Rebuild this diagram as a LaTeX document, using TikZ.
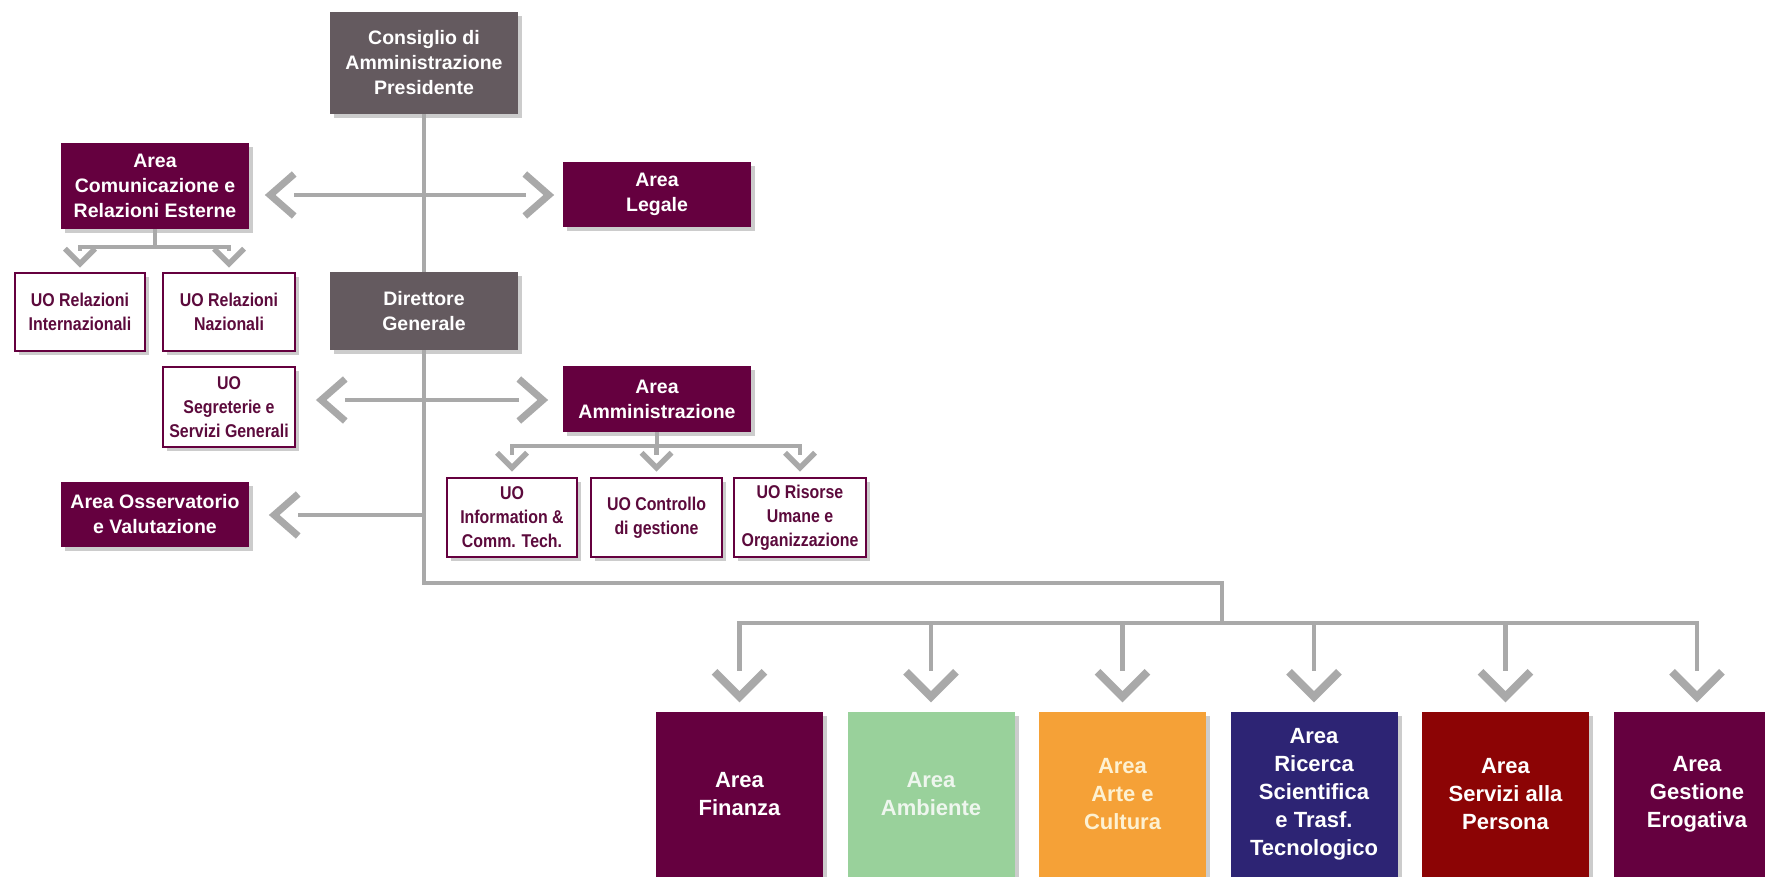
\documentclass[tikz,border=0pt]{standalone}
\usepackage{fontspec}
\setmainfont{Liberation Sans}
\newfontfamily\uofamily[FakeStretch=0.86]{Liberation Sans}
\usetikzlibrary{shadows,calc}
\definecolor{maroon}{HTML}{65003F}
\definecolor{dgray}{HTML}{645A5F}
\definecolor{lgray}{HTML}{A9A9A9}
\definecolor{agreen}{HTML}{99D19B}
\definecolor{aorange}{HTML}{F5A137}
\definecolor{anavy}{HTML}{2D2474}
\definecolor{ared}{HTML}{8C0405}
\definecolor{uotext}{HTML}{5C0A3C}
\definecolor{ambtext}{HTML}{EEF6EE}
\definecolor{arttext}{HTML}{FDF1D2}
\begin{document}
\begin{tikzpicture}[x=1pt,y=-1pt,
  shad/.style={drop shadow={shadow xshift=4pt,shadow yshift=-4pt,opacity=0.2,fill=black}},
  base/.style={align=center,inner sep=0pt,shad},
  topbox/.style={base,fill=dgray,text=white,minimum width=188pt,font=\fontsize{19.5}{25}\selectfont\bfseries},
  areabox/.style={base,fill=maroon,text=white,minimum width=188pt,font=\fontsize{19.5}{25}\selectfont\bfseries},
  uobox/.style={base,fill=white,draw=maroon,line width=2.5pt,text=uotext,font=\uofamily\fontsize{18.5}{24}\selectfont\bfseries},
  botbox/.style={base,minimum width=167pt,minimum height=165pt,text=white,font=\fontsize{22}{28}\selectfont\bfseries},
  conn/.style={draw=lgray,line width=4.5pt},
  chev/.style={draw=lgray,line join=miter},
  pics/bigdown/.style={code={\draw[chev,line width=8pt] (-25,-25) -- (0,0) -- (25,-25);}},
  pics/smalldown/.style={code={\draw[chev,line width=5.5pt] (-15,-15) -- (0,0) -- (15,-15);}},
  pics/sideleft/.style={code={\draw[chev,line width=7pt] (24,-21) -- (0,0) -- (24,21);}},
  pics/sideright/.style={code={\draw[chev,line width=7pt] (-24,-21) -- (0,0) -- (-24,21);}},
]
\fill[white] (0,0) rectangle (1765,877);
\useasboundingbox (0,0) rectangle (1765,877);

% coordinates on the main line
\coordinate (h1) at (424,195);
\coordinate (h2) at (424,400);
\coordinate (h3) at (424,515);
\coordinate (j1) at (424,583);
\coordinate (j2) at (1222,623);
\coordinate (b1) at (155,247);
\coordinate (b2) at (657,446);

% nodes
\node[topbox,minimum height=102pt] (cons) at (424,63) {Consiglio di\\Amministrazione\\Presidente};
\node[areabox,minimum height=86pt] (comm) at (155,186) {Area\\Comunicazione e\\Relazioni Esterne};
\node[areabox,minimum height=65pt] (leg) at (657,194.5) {Area\\Legale};
\node[uobox,minimum width=130pt,minimum height=78pt] (uoi) at (80,312) {UO Relazioni\\Internazionali};
\node[uobox,minimum width=132pt,minimum height=78pt] (uon) at (229,312) {UO Relazioni\\Nazionali};
\node[topbox,minimum height=78pt] (dir) at (424,311) {Direttore\\Generale};
\node[uobox,minimum width=132pt,minimum height=80pt] (seg) at (229,407) {UO\\Segreterie e\\Servizi Generali};
\node[areabox,minimum height=66pt] (amm) at (657,399) {Area\\Amministrazione};
\node[areabox,minimum height=65pt] (oss) at (155,514.5) {Area Osservatorio\\e Valutazione};
\node[uobox,minimum width=130pt,minimum height=79pt] (ict) at (512,517.5) {UO\\Information \&\\Comm. Tech.};
\node[uobox,minimum width=131pt,minimum height=79pt] (cdg) at (656.5,517.5) {UO Controllo\\di gestione};
\node[uobox,minimum width=132pt,minimum height=79pt] (rum) at (800,517.5) {UO Risorse\\Umane e\\Organizzazione};

\node[botbox,fill=maroon] (fin) at (739.5,794.5) {Area\\Finanza};
\node[botbox,fill=agreen,text=ambtext] (amb) at (931,794.5) {Area\\Ambiente};
\node[botbox,fill=aorange,text=arttext] (art) at (1122.5,794.5) {Area\\Arte e\\Cultura};
\node[botbox,fill=anavy] (ric) at (1314,794.5) {Area\\Ricerca\\Scientifica\\e Trasf.\\Tecnologico};
\node[botbox,fill=ared] (ser) at (1505.5,794.5) {Area\\Servizi alla\\Persona};
\node[botbox,fill=maroon] (ges) at (1697,794.5) {Area\\Gestione\\Erogativa};

% main spine
\draw[conn] (cons.south) -- (dir.north);
\draw[conn] (dir.south) -- (j1) -| (j2);
\draw[conn] ($(fin.north)+(0,-41)$) |- (j2) -| ($(ges.north)+(0,-41)$);
\foreach \n in {amb,art,ric,ser} \draw[conn] (\n.north |- j2) -- ($(\n.north)+(0,-41)$);
\foreach \n in {fin,amb,art,ric,ser,ges} \pic at ($(\n.north)+(0,-15)$) {bigdown};

% Comunicazione <-> Legale
\draw[conn] ($(comm.east |- h1)+(45,0)$) -- ($(leg.west |- h1)+(-37,0)$);
\pic at ($(comm.east |- h1)+(21,0)$) {sideleft};
\pic at ($(leg.west |- h1)+(-14,0)$) {sideright};

% Segreterie <-> Amministrazione
\draw[conn] ($(seg.east |- h2)+(49,0)$) -- ($(amm.west |- h2)+(-44,0)$);
\pic at ($(seg.east |- h2)+(25,0)$) {sideleft};
\pic at ($(amm.west |- h2)+(-20,0)$) {sideright};

% Osservatorio
\draw[conn] ($(oss.east |- h3)+(49,0)$) -- (h3);
\pic at ($(oss.east |- h3)+(25,0)$) {sideleft};

% Comunicazione bracket
\draw[conn] (comm.south) -- (b1);
\draw[conn] ($(uoi.north)+(0,-21)$) -- (uoi.north |- b1) -- (uon.north |- b1) -- ($(uon.north)+(0,-21)$);
\pic at ($(uoi.north)+(0,-8)$) {smalldown};
\pic at ($(uon.north)+(0,-8)$) {smalldown};

% Amministrazione bracket
\draw[conn] (amm.south) -- (b2);
\draw[conn] ($(ict.north)+(0,-22)$) -- (ict.north |- b2) -- (rum.north |- b2) -- ($(rum.north)+(0,-22)$);
\draw[conn] (cdg.north |- b2) -- ($(cdg.north)+(0,-22)$);
\foreach \n in {ict,cdg,rum} \pic at ($(\n.north)+(0,-9)$) {smalldown};
\end{tikzpicture}
\end{document}
